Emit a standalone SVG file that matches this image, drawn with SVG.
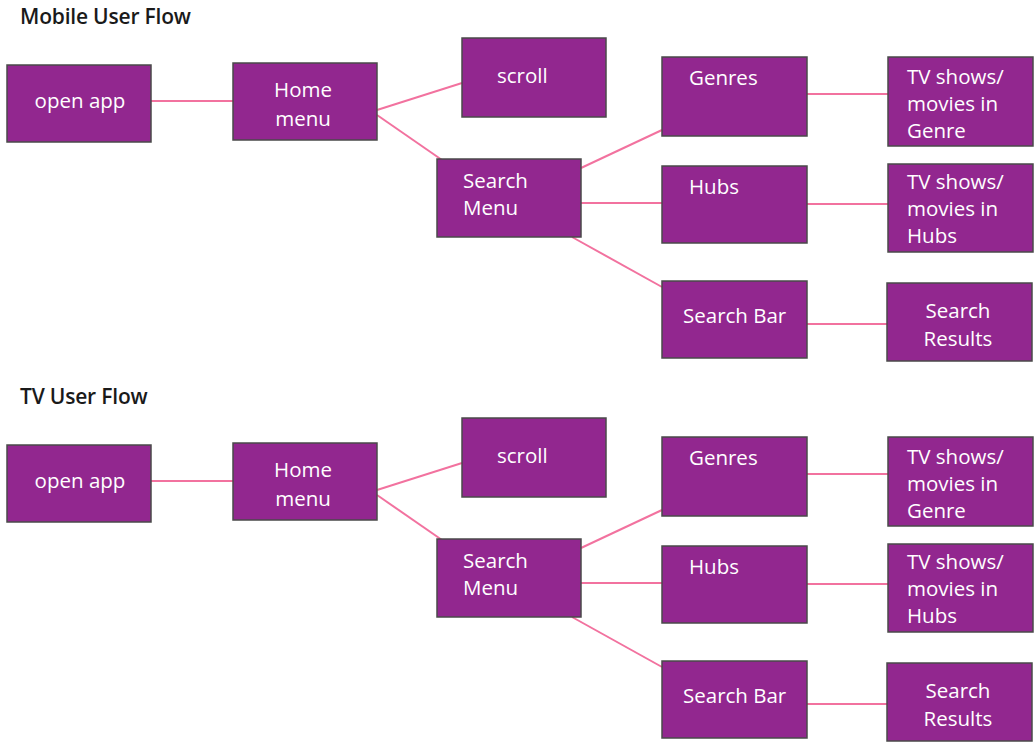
<svg xmlns="http://www.w3.org/2000/svg" width="1035" height="742" viewBox="0 0 1035 742">
<defs>
<style>
.box{fill:#92278f;stroke:#4a4a4a;stroke-width:1.5}
.t{fill:#ffffff;font-family:"Open Sans","DejaVu Sans",sans-serif;font-size:20.5px}
.c{text-anchor:middle}
.title{fill:#1a1a1a;font-family:"Open Sans","DejaVu Sans",sans-serif;font-size:21px;font-weight:600;letter-spacing:-0.2px}
.edge{stroke:#f2729f;stroke-width:2;fill:none}
</style>
</defs>
<rect width="1035" height="742" fill="#ffffff"/>
<g id="flows">
<g id="mobile">
<text class="title" x="20" y="24">Mobile User Flow</text>
<g id="m-edges">
<line class="edge" x1="151" y1="101" x2="234" y2="101"/>
<line class="edge" x1="377" y1="110" x2="462" y2="83"/>
<line class="edge" x1="377" y1="115" x2="442" y2="160"/>
<line class="edge" x1="581" y1="168" x2="662" y2="130"/>
<line class="edge" x1="581" y1="203" x2="662" y2="203"/>
<line class="edge" x1="572" y1="237" x2="662" y2="287"/>
<line class="edge" x1="807" y1="94" x2="888" y2="94"/>
<line class="edge" x1="807" y1="204" x2="888" y2="204"/>
<line class="edge" x1="807" y1="324" x2="887" y2="324"/>
</g>
<g id="m-open"><rect class="box" x="7" y="65" width="144" height="77"/><text class="t c" x="80" y="108">open app</text></g>
<g id="m-home"><rect class="box" x="233" y="63" width="144" height="77"/><text class="t c" x="303" y="97">Home</text><text class="t c" x="303" y="126">menu</text></g>
<g id="m-scroll"><rect class="box" x="462" y="38" width="144" height="79"/><text class="t" x="497" y="83">scroll</text></g>
<g id="m-search"><rect class="box" x="437" y="159" width="144" height="78"/><text class="t" x="463" y="188">Search</text><text class="t" x="463" y="215">Menu</text></g>
<g id="m-genres"><rect class="box" x="662" y="57" width="145" height="79"/><text class="t" x="689" y="85">Genres</text></g>
<g id="m-hubs"><rect class="box" x="662" y="166" width="145" height="77"/><text class="t" x="689" y="194">Hubs</text></g>
<g id="m-bar"><rect class="box" x="662" y="281" width="145" height="77"/><text class="t" x="683" y="323">Search Bar</text></g>
<g id="m-tvgenre"><rect class="box" x="888" y="57" width="145" height="89"/><text class="t" x="907" y="84">TV shows/</text><text class="t" x="907" y="111">movies in</text><text class="t" x="907" y="138">Genre</text></g>
<g id="m-tvhubs"><rect class="box" x="888" y="164" width="145" height="88"/><text class="t" x="907" y="189">TV shows/</text><text class="t" x="907" y="216">movies in</text><text class="t" x="907" y="243">Hubs</text></g>
<g id="m-results"><rect class="box" x="887" y="283" width="145" height="78"/><text class="t c" x="958" y="318">Search</text><text class="t c" x="958" y="346">Results</text></g>
</g>
<g id="tv" transform="translate(0,380)">
<text class="title" x="20" y="24">TV User Flow</text>
<g id="t-edges">
<line class="edge" x1="151" y1="101" x2="234" y2="101"/>
<line class="edge" x1="377" y1="110" x2="462" y2="83"/>
<line class="edge" x1="377" y1="115" x2="442" y2="160"/>
<line class="edge" x1="581" y1="168" x2="662" y2="130"/>
<line class="edge" x1="581" y1="203" x2="662" y2="203"/>
<line class="edge" x1="572" y1="237" x2="662" y2="287"/>
<line class="edge" x1="807" y1="94" x2="888" y2="94"/>
<line class="edge" x1="807" y1="204" x2="888" y2="204"/>
<line class="edge" x1="807" y1="324" x2="887" y2="324"/>
</g>
<g id="t-open"><rect class="box" x="7" y="65" width="144" height="77"/><text class="t c" x="80" y="108">open app</text></g>
<g id="t-home"><rect class="box" x="233" y="63" width="144" height="77"/><text class="t c" x="303" y="97">Home</text><text class="t c" x="303" y="126">menu</text></g>
<g id="t-scroll"><rect class="box" x="462" y="38" width="144" height="79"/><text class="t" x="497" y="83">scroll</text></g>
<g id="t-search"><rect class="box" x="437" y="159" width="144" height="78"/><text class="t" x="463" y="188">Search</text><text class="t" x="463" y="215">Menu</text></g>
<g id="t-genres"><rect class="box" x="662" y="57" width="145" height="79"/><text class="t" x="689" y="85">Genres</text></g>
<g id="t-hubs"><rect class="box" x="662" y="166" width="145" height="77"/><text class="t" x="689" y="194">Hubs</text></g>
<g id="t-bar"><rect class="box" x="662" y="281" width="145" height="77"/><text class="t" x="683" y="323">Search Bar</text></g>
<g id="t-tvgenre"><rect class="box" x="888" y="57" width="145" height="89"/><text class="t" x="907" y="84">TV shows/</text><text class="t" x="907" y="111">movies in</text><text class="t" x="907" y="138">Genre</text></g>
<g id="t-tvhubs"><rect class="box" x="888" y="164" width="145" height="88"/><text class="t" x="907" y="189">TV shows/</text><text class="t" x="907" y="216">movies in</text><text class="t" x="907" y="243">Hubs</text></g>
<g id="t-results"><rect class="box" x="887" y="283" width="145" height="78"/><text class="t c" x="958" y="318">Search</text><text class="t c" x="958" y="346">Results</text></g>
</g>
</g>
</svg>
